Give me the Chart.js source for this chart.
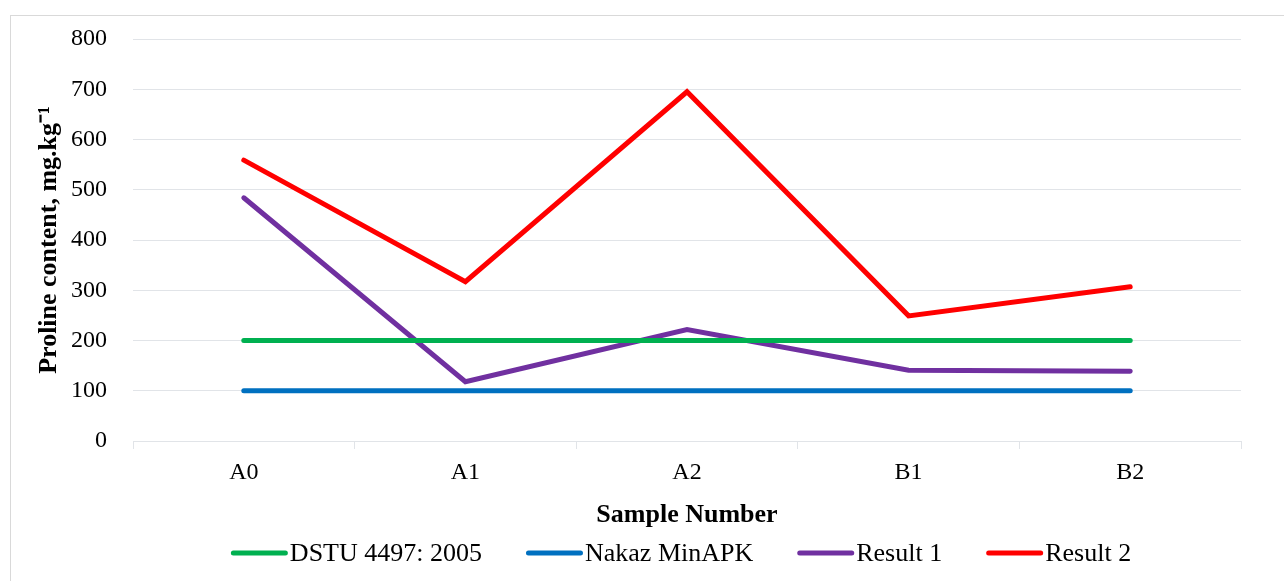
<!DOCTYPE html>
<html lang="en">
  <head>
    <meta charset="UTF-8" />
    <title>Proline content</title>
    <script src="https://cdn.jsdelivr.net/npm/chart.js"></script>
    <style>
      body {
        margin: 0;
        background: #fff;
      }
      .chart-box {
        position: absolute;
        left: 10px;
        top: 15px;
        width: 1273px;
        height: 565px;
        border: 1px solid #d9d9d9;
        border-right: none;
        border-bottom: none;
      }
    </style>
  </head>
  <body>
    <div class="chart-box">
      <canvas id="prolineChart"></canvas>
    </div>
    <script>
      // sample categories
      const samples = ["A0", "A1", "A2", "B1", "B2"];

      // series values, mg/kg
      const dstu = [200, 200, 200, 200, 200];
      const nakaz = [100, 100, 100, 100, 100];
      const result1 = [484, 118, 222, 141, 139];
      const result2 = [559, 317, 695, 249, 307];

      const font = "'Liberation Serif', 'Times New Roman', serif";
      const gridColor = "#e1e4e8";

      function series(label, data, color) {
        return {
          label: label,
          data: data,
          borderColor: color,
          backgroundColor: color,
          borderWidth: 5,
          pointRadius: 0,
          borderCapStyle: "round",
          borderJoinStyle: "miter",
          tension: 0,
        };
      }

      // legend drawn by hand: line marker, text right after it
      const lineLegend = {
        id: "lineLegend",
        afterDraw(chart) {
          const c = chart.ctx;
          const area = chart.chartArea;
          const markW = 57;
          const gap = 44;
          c.save();
          c.font = "26px " + font;
          const items = chart.data.datasets.map((ds) => ({
            label: ds.label,
            color: ds.borderColor,
            w: markW + 2 + c.measureText(ds.label).width,
          }));
          const total =
            items.reduce((s, it) => s + it.w, 0) + gap * (items.length - 1);
          let x = (area.left + area.right) / 2 - 6 - total / 2;
          const y = chart.height - 28;
          c.textBaseline = "middle";
          c.lineCap = "round";
          c.lineWidth = 5;
          items.forEach((it) => {
            c.strokeStyle = it.color;
            c.beginPath();
            c.moveTo(x + 2.5, y);
            c.lineTo(x + markW - 2.5, y);
            c.stroke();
            c.fillStyle = "#000";
            c.fillText(it.label, x + markW + 2, y + 1);
            x += it.w + gap;
          });
          c.restore();
        },
      };

      const ctx = document.getElementById("prolineChart").getContext("2d");
      new Chart(ctx, {
        type: "line",
        data: {
          labels: samples,
          datasets: [
            series("DSTU 4497: 2005", dstu, "#00b050"),
            series("Nakaz MinAPK", nakaz, "#0070c0"),
            series("Result 1", result1, "#7030a0"),
            series("Result 2", result2, "#ff0000"),
          ],
        },
        plugins: [lineLegend],
        options: {
          responsive: true,
          maintainAspectRatio: false,
          animation: false,
          layout: {
            padding: { left: 0, right: 43, top: 23, bottom: 48 },
          },
          plugins: {
            legend: { display: false },
            tooltip: { enabled: false },
          },
          scales: {
            x: {
              offset: true,
              grid: {
                offset: true,
                drawOnChartArea: false,
                drawTicks: true,
                tickLength: 8,
                color: gridColor,
              },
              border: { color: gridColor },
              ticks: {
                font: { family: font, size: 24 },
                color: "#000",
                padding: 9,
              },
              title: {
                display: true,
                text: "Sample Number",
                font: { family: font, size: 26, weight: "bold" },
                color: "#000",
                padding: { top: 4, bottom: 2 },
              },
            },
            y: {
              min: 0,
              max: 800,
              afterFit(scale) {
                scale.width = 122;
                scale.paddingTop = 0;
                scale.paddingBottom = 0;
              },
              ticks: {
                stepSize: 100,
                font: { family: font, size: 24 },
                color: "#000",
                padding: 26,
              },
              grid: {
                color: gridColor,
                drawTicks: false,
              },
              border: { display: false },
              title: {
                display: true,
                text: "Proline content, mg.kg\u207B\u00B9",
                font: { family: font, size: 26, weight: "bold" },
                color: "#000",
                padding: { top: 23, bottom: 6 },
              },
            },
          },
        },
      });
    </script>
  </body>
</html>
